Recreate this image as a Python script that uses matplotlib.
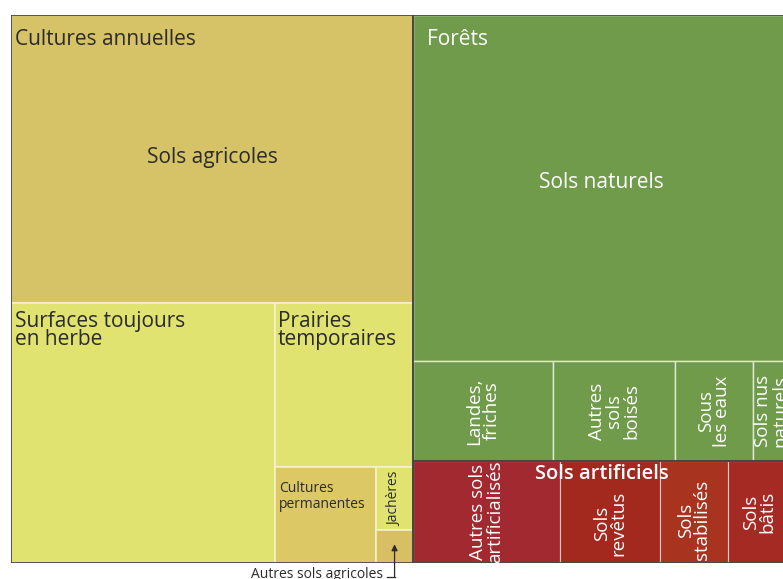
import matplotlib.pyplot as plt
from matplotlib.patches import Rectangle

# surfaces en milliers d'hectares
agri_labels = ["Cultures annuelles", "Surfaces toujours\nen herbe", "Prairies\ntemporaires",
               "Cultures\npermanentes", "Jachères", "Autres sols agricoles"]
agri_values = [14890, 8830, 2910, 1250, 300, 157]
nat_labels = ["Forêts", "Landes,\nfriches", "Autres\nsols\nboisés", "Sous\nles eaux", "Sols nus\nnaturels"]
nat_values = [16775, 1800, 1570, 1003, 476]
art_labels = ["Autres sols\nartificialisés", "Sols\nrevêtus", "Sols\nstabilisés", "Sols\nbâtis"]
art_values = [1928, 1312, 892, 813]

agri_colors = ["#d7c367", "#e0e36f", "#e0e36f", "#dcc865", "#e0e36f", "#d8bf64"]
nat_color = "#6f9b4a"
art_colors = ["#a2292f", "#a3291f", "#a8331f", "#a52a24"]

plt.rcParams['font.family'] = ['Open Sans', 'DejaVu Sans']


def cut(box, vals, across):
    # decoupe un rectangle en bandes proportionnelles aux valeurs
    x, y, w, h = box
    tot = sum(vals)
    out = []
    for v in vals:
        f = v / tot
        if across:
            out.append((x, y, w * f, h))
            x += w * f
        else:
            out.append((x, y, w, h * f))
            y += h * f
    return out


fig = plt.figure(figsize=(7.83, 5.79), dpi=100)
ax = fig.add_axes([11 / 783, 1 - 563 / 579, 779 / 783, 548 / 579])
ax.set_xlim(0, 1)
ax.set_ylim(1, 0)
ax.axis('off')

agri_box, right_box = cut((0, 0, 1, 1), [sum(agri_values), sum(nat_values) + sum(art_values)], True)

# sols agricoles
ann_r, rest = cut(agri_box, [agri_values[0], sum(agri_values[1:])], False)
herbe_r, rest = cut(rest, [agri_values[1], sum(agri_values[2:])], True)
prai_r, rest = cut(rest, [agri_values[2], sum(agri_values[3:])], False)
perm_r, rest = cut(rest, [agri_values[3], sum(agri_values[4:])], True)
jach_r, aut_r = cut(rest, agri_values[4:], False)
agri_rects = [ann_r, herbe_r, prai_r, perm_r, jach_r, aut_r]

# sols naturels et artificiels
nat_box, art_box = cut(right_box, [sum(nat_values), sum(art_values)], False)
for_r, row = cut(nat_box, [nat_values[0], sum(nat_values[1:])], False)
nat_rects = [for_r] + cut(row, nat_values[1:], True)
art_rects = cut(art_box, art_values, True)

for r, c in zip(agri_rects, agri_colors):
    ax.add_patch(Rectangle(r[:2], r[2], r[3], facecolor=c, edgecolor='#f6f3d0', lw=1.1))
for r in nat_rects:
    ax.add_patch(Rectangle(r[:2], r[2], r[3], facecolor=nat_color, edgecolor='#dfe9d6', lw=1))
for r, c in zip(art_rects, art_colors):
    ax.add_patch(Rectangle(r[:2], r[2], r[3], facecolor=c, edgecolor='#e6c9c9', lw=0.8))
for b in [agri_box, nat_box, art_box]:
    ax.add_patch(Rectangle(b[:2], b[2], b[3], fill=False, edgecolor='#474747', lw=1.3, zorder=3))

dark = '#2b2b2b'


def corner(r, txt, color, size, dx=6, dy=-7, ls=0.8):
    ax.annotate(txt, xy=(r[0], r[1]), xytext=(dx, dy), textcoords='offset points',
                ha='left', va='top', fontsize=size, color=color, linespacing=ls)


def middle(r, txt, color, size, rot=90, dy=0, ls=0.92):
    ax.annotate(txt, xy=(r[0] + r[2] / 2, r[1] + r[3] / 2), xytext=(0, dy),
                textcoords='offset points', ha='center', va='center', rotation=rot,
                fontsize=size, color=color, linespacing=ls, multialignment='center')


corner(ann_r, agri_labels[0], dark, 15, dx=3, dy=-10)
corner(herbe_r, agri_labels[1], dark, 15, dx=3, dy=-6)
corner(prai_r, agri_labels[2], dark, 15, dx=2, dy=-6)
corner(perm_r, agri_labels[3], dark, 10, dx=3, dy=-10, ls=1.15)
middle(jach_r, agri_labels[4], dark, 10)
middle(ann_r, "Sols agricoles", dark, 15, rot=0, dy=1)

corner(for_r, nat_labels[0], 'white', 15, dx=10, dy=-10)
middle(for_r, "Sols naturels", 'white', 15, rot=0, dy=4)
for r, t in zip(nat_rects[1:], nat_labels[1:]):
    middle(r, t, 'white', 13.5)

for r, t, d in zip(art_rects, art_labels, [0, -8, -6, 0]):
    middle(r, t, 'white', 13.5, dy=d)
ax.annotate("Sols artificiels", xy=(art_box[0] + art_box[2] / 2, art_box[1]), xytext=(0, -2),
            textcoords='offset points', ha='center', va='top', fontsize=14.5,
            color='white', fontweight='semibold')

# fleche vers la plus petite case
ax.annotate("", xy=(aut_r[0] + aut_r[2] * 0.5, aut_r[1] + aut_r[3] * 0.35),
            xytext=(aut_r[0] + aut_r[2] * 0.5, 1.03), textcoords='data',
            arrowprops=dict(arrowstyle='-|>', color=dark, lw=0.9, mutation_scale=9),
            annotation_clip=False)
ax.plot([aut_r[0] + aut_r[2] * 0.3, aut_r[0] + aut_r[2] * 0.5], [1.026, 1.026],
        color=dark, lw=0.9, clip_on=False)
ax.text(aut_r[0] + aut_r[2] * 0.2, 1.008, agri_labels[5], ha='right', va='top',
        fontsize=10, color=dark, clip_on=False)

fig.savefig('out.png', dpi=100)
